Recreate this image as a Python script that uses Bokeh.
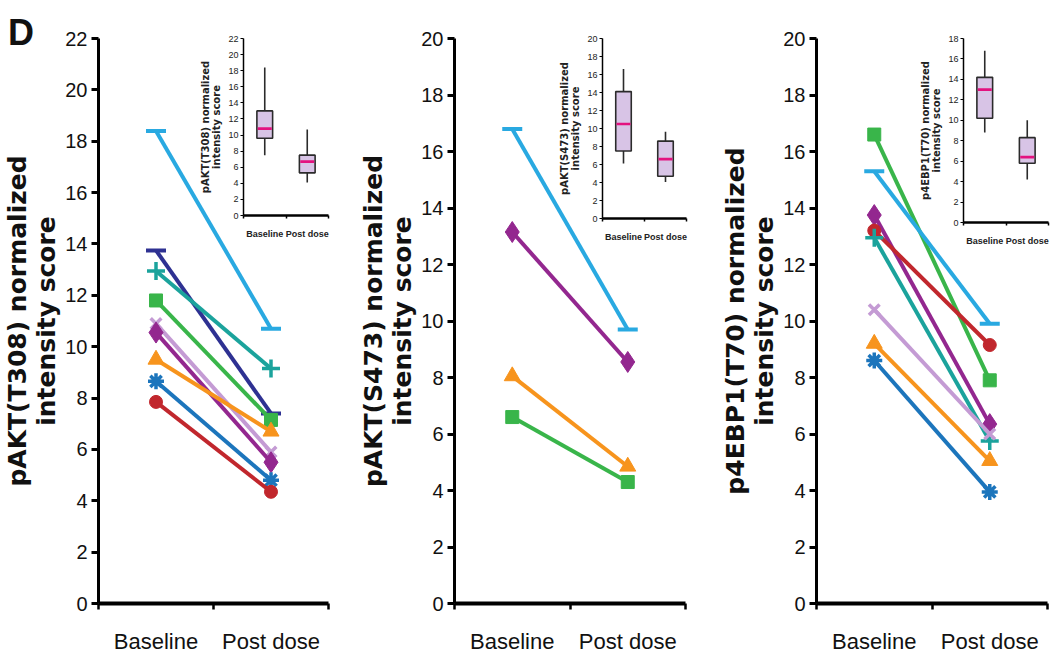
from bokeh.plotting import figure
from bokeh.models import (Range1d, FactorRange, LinearAxis, CategoricalAxis,
                          FixedTicker, GridBox, Div)
from bokeh.embed import file_html
from bokeh.resources import INLINE

# ---------------- data ----------------
CATS = ["Baseline", "Post dose"]

Y_TICKS_22 = [0, 2, 4, 6, 8, 10, 12, 14, 16, 18, 20, 22]
Y_TICKS_20 = [0, 2, 4, 6, 8, 10, 12, 14, 16, 18, 20]
Y_TICKS_18 = [0, 2, 4, 6, 8, 10, 12, 14, 16, 18]

# pAKT(T308): one value per patient
T308_BASELINE = [18.4, 13.75, 12.95, 11.8, 10.9, 10.55, 9.5, 8.65, 7.85]
T308_POST = [10.7, 7.4, 9.15, 7.15, 5.9, 5.5, 6.7, 4.8, 4.35]
T308_PATIENTS = ["sky", "navy", "teal", "green", "plum", "purple", "orange", "blue", "red"]

# pAKT(S473)
S473_BASELINE = [16.8, 13.15, 8.05, 6.6]
S473_POST = [9.7, 8.55, 4.85, 4.3]
S473_PATIENTS = ["sky", "purple", "orange", "green"]

# p4EBP1(T70)
T70_BASELINE = [16.6, 15.3, 13.75, 13.2, 12.95, 10.4, 9.2, 8.6]
T70_POST = [7.9, 9.9, 6.35, 9.15, 5.75, 6.0, 5.05, 3.95]
T70_PATIENTS = ["green", "sky", "purple", "red", "teal", "plum", "orange", "blue"]

# inset box plots: [Baseline, Post dose]
T308_LOWER = [7.5, 4.1]
T308_Q1 = [9.6, 5.3]
T308_MEDIAN = [10.8, 6.7]
T308_Q3 = [13.0, 7.5]
T308_UPPER = [18.4, 10.7]

S473_LOWER = [6.1, 4.05]
S473_Q1 = [7.5, 4.7]
S473_MEDIAN = [10.5, 6.6]
S473_Q3 = [14.1, 8.6]
S473_UPPER = [16.6, 9.65]

T70_LOWER = [8.8, 4.2]
T70_Q1 = [10.2, 5.8]
T70_MEDIAN = [13.0, 6.4]
T70_Q3 = [14.2, 8.3]
T70_UPPER = [16.8, 10.0]

# boundaries between the two categories (synthetic coordinates)
SEPARATORS = [0, 1, 2]

# ---------------- styles ----------------
STYLE = {
    "sky":    dict(color="#29a9e1", marker="dash", size=20, lw=4),
    "navy":   dict(color="#2e3192", marker="dash", size=20, lw=4),
    "teal":   dict(color="#1ba39c", marker="cross", size=18, lw=3.5),
    "green":  dict(color="#39b54a", marker="square", size=13, lw=0),
    "plum":   dict(color="#c49bd4", marker="x", size=15, lw=3.5),
    "purple": dict(color="#93278f", marker="diamond", size=21, lw=0),
    "orange": dict(color="#f7941d", marker="triangle", size=16, lw=0),
    "blue":   dict(color="#1c75bc", marker="asterisk", size=16, lw=3.5),
    "red":    dict(color="#c1272d", marker="circle", size=13, lw=0),
}

SANS = "Liberation Sans"
LABEL_FONT = "DejaVu Sans"
TOP = 38  # shared frame top (the grid aligns plot frames in a row)


def add_sep_axis(p, line_w, tick_out, tick_w):
    sep = LinearAxis(ticker=FixedTicker(ticks=SEPARATORS),
                     axis_line_width=line_w, major_tick_out=tick_out,
                     major_tick_in=0, major_tick_line_width=tick_w,
                     minor_tick_line_color=None,
                     major_label_overrides={t: "" for t in SEPARATORS},
                     major_label_text_font_size="1px",
                     major_label_standoff=0)
    p.add_layout(sep, "below")


def main_panel(baseline, post, patients, ymax, ticks, ylabel, frame_w, right):
    p = figure(x_range=FactorRange(*CATS), y_range=Range1d(0, ymax),
               frame_width=frame_w, frame_height=565, title=None,
               min_border_left=97, min_border_right=right,
               min_border_top=TOP, min_border_bottom=54,
               x_axis_location=None, toolbar_location=None,
               output_backend="svg", outline_line_color=None)
    p.grid.visible = False

    for b, q, key in zip(baseline, post, patients):
        st = STYLE[key]
        p.line(x=CATS, y=[b, q], line_color=st["color"], line_width=4)
        if st["lw"] > 0:
            p.scatter(x=CATS, y=[b, q], marker=st["marker"], size=st["size"],
                      line_color=st["color"], line_width=st["lw"],
                      fill_color=st["color"])
        else:
            p.scatter(x=CATS, y=[b, q], marker=st["marker"], size=st["size"],
                      line_color=st["color"], fill_color=st["color"])

    ya = p.yaxis[0]
    ya.ticker = FixedTicker(ticks=ticks)
    ya.axis_line_width = 3
    ya.major_tick_out = 7
    ya.major_tick_in = 0
    ya.major_tick_line_width = 3
    ya.minor_tick_line_color = None
    ya.major_label_text_font = SANS
    ya.major_label_text_font_size = "20px"
    ya.major_label_text_color = "#111111"
    ya.major_label_standoff = 4
    ya.axis_label = ylabel
    ya.axis_label_text_font = LABEL_FONT
    ya.axis_label_text_font_style = "bold"
    ya.axis_label_text_font_size = "25px"
    ya.axis_label_text_line_height = 1.0
    ya.axis_label_standoff = 1
    ya.axis_label_text_color = "#111111"

    add_sep_axis(p, 4, 6, 2.5)
    cat = CategoricalAxis(axis_line_color=None, major_tick_line_color=None,
                          minor_tick_line_color=None,
                          major_label_text_font=SANS,
                          major_label_text_font_size="22px",
                          major_label_text_color="#111111",
                          major_label_standoff=13)
    p.add_layout(cat, "below")
    return p


def inset(lower, q1, med, q3, upper, ymax, ticks, ylabel, frame_w, frame_h):
    p = figure(x_range=FactorRange(*CATS), y_range=Range1d(0, ymax),
               frame_width=frame_w, frame_height=frame_h, title=None,
               min_border_left=54, min_border_right=2,
               min_border_top=TOP, min_border_bottom=34,
               x_axis_location=None, toolbar_location=None,
               output_backend="svg", outline_line_color=None,
               background_fill_alpha=0, border_fill_alpha=0)
    p.grid.visible = False
    p.segment(x0=CATS, y0=lower, x1=CATS, y1=upper,
              line_color="#2b2b2b", line_width=1.6)
    p.vbar(x=CATS, bottom=q1, top=q3, width=0.37, fill_color="#d8c4e6",
           line_color="#2b2b2b", line_width=1.6)
    p.scatter(x=CATS, y=med, marker="dash", size=14, line_width=2.6,
              line_color="#e3127f")

    ya = p.yaxis[0]
    ya.ticker = FixedTicker(ticks=ticks)
    ya.axis_line_width = 1.5
    ya.major_tick_out = 3
    ya.major_tick_in = 0
    ya.major_tick_line_width = 1.2
    ya.minor_tick_line_color = None
    ya.major_label_text_font = SANS
    ya.major_label_text_font_size = "9px"
    ya.major_label_text_color = "#222222"
    ya.major_label_standoff = 2
    ya.axis_label = ylabel
    ya.axis_label_text_font = LABEL_FONT
    ya.axis_label_text_font_style = "bold"
    ya.axis_label_text_font_size = "10px"
    ya.axis_label_text_line_height = 1.0
    ya.axis_label_standoff = 3
    ya.axis_label_text_color = "#222222"

    add_sep_axis(p, 2.5, 3, 1.5)
    cat = CategoricalAxis(axis_line_color=None, major_tick_line_color=None,
                          minor_tick_line_color=None,
                          major_label_text_font=SANS,
                          major_label_text_font_style="bold",
                          major_label_text_font_size="9px",
                          major_label_text_color="#222222",
                          major_label_standoff=4)
    p.add_layout(cat, "below")
    return p


p1 = main_panel(T308_BASELINE, T308_POST, T308_PATIENTS, 22, Y_TICKS_22,
                "pAKT(T308) normalized\nintensity score", 231, 28)
p2 = main_panel(S473_BASELINE, S473_POST, S473_PATIENTS, 20, Y_TICKS_20,
                "pAKT(S473) normalized\nintensity score", 232, 33)
p3 = main_panel(T70_BASELINE, T70_POST, T70_PATIENTS, 20, Y_TICKS_20,
                "p4EBP1(T70) normalized\nintensity score", 232, 3)

i1 = inset(T308_LOWER, T308_Q1, T308_MEDIAN, T308_Q3, T308_UPPER, 22, Y_TICKS_22,
           "pAKT(T308) normalized\nintensity score", 85, 177)
i2 = inset(S473_LOWER, S473_Q1, S473_MEDIAN, S473_Q3, S473_UPPER, 20, Y_TICKS_20,
           "pAKT(S473) normalized\nintensity score", 84, 180)
i3 = inset(T70_LOWER, T70_Q1, T70_MEDIAN, T70_Q3, T70_UPPER, 18, Y_TICKS_18,
           "p4EBP1(T70) normalized\nintensity score", 85, 184)

# panel letter
letter = Div(text="D", styles={"font-family": "Liberation Sans, Arial, sans-serif",
                               "font-weight": "bold", "font-size": "36px",
                               "line-height": "36px", "color": "#111111",
                               "padding-left": "8px", "padding-top": "15px",
                               "margin": "0px"})

# column tracks: panel 1 = c0..c2, panel 2 = c3..c5, panel 3 = c6..c7
COLS = ["189px", "141px", "26px", "192px", "140px", "30px", "191px", "141px"]

root = GridBox(children=[(p1, 0, 0, 1, 3), (p2, 0, 3, 1, 3), (p3, 0, 6, 1, 2),
                         (i1, 0, 1), (i2, 0, 4), (i3, 0, 7), (letter, 0, 0)],
               cols=COLS, rows=["657px"], spacing=0)

open("out.html", "w").write(file_html(root, INLINE))
